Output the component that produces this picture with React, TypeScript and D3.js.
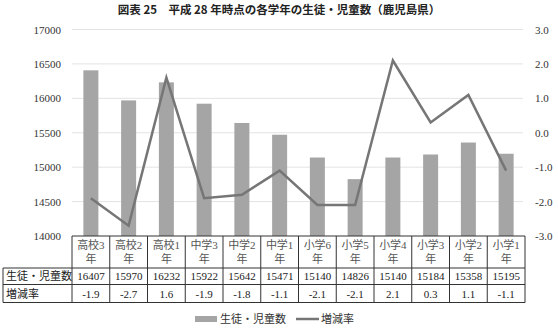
import React from "react";
import * as d3 from "d3";

const categories = ["高校3", "高校2", "高校1", "中学3", "中学2", "中学1", "小学6", "小学5", "小学4", "小学3", "小学2", "小学1"];
const students = [16407, 15970, 16232, 15922, 15642, 15471, 15140, 14826, 15140, 15184, 15358, 15195];
const rates = [-1.9, -2.7, 1.6, -1.9, -1.8, -1.1, -2.1, -2.1, 2.1, 0.3, 1.1, -1.1];
const leftTicks = [14000, 14500, 15000, 15500, 16000, 16500, 17000];
const rightTicks = [-3, -2, -1, 0, 1, 2, 3];

const W = 558, H = 328;
const plotL = 72, plotR = 525, plotT = 29.5, plotB = 236;
const tableL = 3;
const row1B = 268, row2B = 284.5, row3B = 302.5;
const serif = "'Liberation Serif', 'Noto Sans CJK JP', serif";
const jp = "'Noto Sans CJK JP', sans-serif";

export default function App() {
  const x = d3.scaleBand<string>().domain(categories).range([plotL, plotR]);
  const yL = d3.scaleLinear().domain([14000, 17000]).range([plotB, plotT]);
  const yR = d3.scaleLinear().domain([-3, 3]).range([plotB, plotT]);
  const bw = 15;
  const line = d3.line<number>()
    .x((_, i) => (x(categories[i]) as number) + x.bandwidth() / 2)
    .y((d) => yR(d));

  return (
    <svg width={W} height={H} style={{ position: "absolute", left: 0, top: 0, background: "#fff" }}>
      <text x={279} y={14} textAnchor="middle" fontFamily={jp} fontWeight="bold" fontSize={11.5} fill="#222">
        図表 25　平成 28 年時点の各学年の生徒・児童数（鹿児島県）
      </text>
      {leftTicks.map((t) => (
        <g key={"l" + t}>
          {t !== 14000 && <line x1={plotL} x2={plotR - 2} y1={yL(t)} y2={yL(t)} stroke="#e3e3e3" strokeWidth={1} />}
          <text x={61} y={yL(t) + 4} textAnchor="end" fontFamily={serif} fontSize={11} fill="#333">{t}</text>
        </g>
      ))}
      {rightTicks.map((t) => (
        <text key={"r" + t} x={535} y={yR(t) + 4} textAnchor="start" fontFamily={serif} fontSize={11} fill="#333">
          {t.toFixed(1)}
        </text>
      ))}
      {students.map((v, i) => (
        <rect key={"b" + i} x={(x(categories[i]) as number) + x.bandwidth() / 2 - bw / 2} y={yL(v)}
          width={bw} height={plotB - yL(v)} fill="#a5a5a5" />
      ))}
      <path d={line(rates) || ""} fill="none" stroke="#767676" strokeWidth={2.5} />
      {/* table */}
      <g stroke="#333" strokeWidth={1} fill="none">
        <line x1={plotL} x2={plotR} y1={plotB} y2={plotB} />
        <line x1={tableL} x2={plotR} y1={row1B} y2={row1B} />
        <line x1={tableL} x2={plotR} y1={row2B} y2={row2B} />
        <line x1={tableL} x2={plotR} y1={row3B} y2={row3B} />
        <line x1={tableL} x2={tableL} y1={row1B} y2={row3B} />
        {categories.map((c) => (
          <line key={"v" + c} x1={x(c)} x2={x(c)} y1={plotB} y2={row3B} />
        ))}
        <line x1={plotR} x2={plotR} y1={plotB} y2={row3B} />
      </g>
      {categories.map((c, i) => {
        const cx = (x(c) as number) + x.bandwidth() / 2;
        return (
          <g key={"t" + c} fontFamily={serif} fontSize={11} fill="#555" textAnchor="middle">
            <text x={cx} y={249}>{c}</text>
            <text x={cx} y={262.5}>年</text>
            <text x={cx} y={280} fill="#222">{students[i]}</text>
            <text x={cx} y={298} fill="#222">{rates[i].toFixed(1)}</text>
          </g>
        );
      })}
      <text x={6} y={280} fontFamily={serif} fontSize={11} fill="#222">生徒・児童数</text>
      <text x={6} y={298} fontFamily={serif} fontSize={11} fill="#222">増減率</text>
      {/* legend */}
      <rect x={195} y={316} width={22} height={6} fill="#a5a5a5" />
      <text x={220} y={323} fontFamily={serif} fontSize={11} fill="#333">生徒・児童数</text>
      <line x1={296} x2={319} y1={319} y2={319} stroke="#767676" strokeWidth={2.5} />
      <text x={321} y={323} fontFamily={serif} fontSize={11} fill="#333">増減率</text>
    </svg>
  );
}
